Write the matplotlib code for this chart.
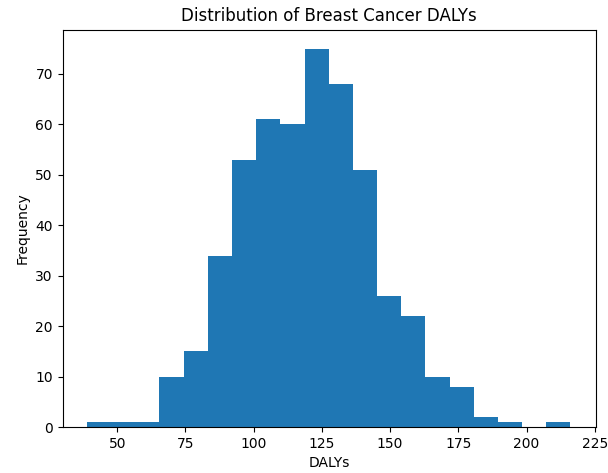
import numpy as np
import matplotlib
matplotlib.use("Agg")
import matplotlib.pyplot as plt

# histogram: 20 equal bins
bin_start = 38.9
bin_end = 216.1
counts = [1, 1, 1, 10, 15, 34, 53, 61, 60, 75, 68, 51, 26, 22, 10, 8, 2, 1, 0, 1]

edges = np.linspace(bin_start, bin_end, len(counts) + 1)
centers = (edges[:-1] + edges[1:]) / 2

fig = plt.figure(figsize=(6.08, 4.73), dpi=100)
ax = fig.add_subplot(111)
fig.subplots_adjust(left=0.103, right=0.980, top=0.937, bottom=0.097)

ax.hist(centers, bins=edges, weights=counts, color='#1f77b4')

ax.set_xticks([50, 75, 100, 125, 150, 175, 200, 225])
ax.set_xlim(30.0, 225.4)
ax.set_title('Distribution of Breast Cancer DALYs')
ax.set_xlabel('DALYs')
ax.set_ylabel('Frequency')

fig.savefig("out.png", dpi=100)
